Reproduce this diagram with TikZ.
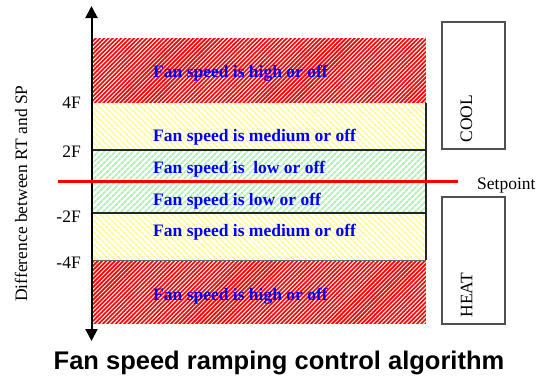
\documentclass[tikz,border=0pt]{standalone}
\usepackage{fontspec}
\setmainfont{Liberation Serif}
\newfontfamily\titlefont{Liberation Sans}
\usetikzlibrary{arrows.meta,patterns.meta}
\definecolor{bandyellow}{RGB}{255,250,140}
\definecolor{bandgreen}{RGB}{175,240,180}
\definecolor{boxgray}{RGB}{80,80,80}
\tikzset{
  hiband/.style={fill=red,postaction={pattern={Lines[angle=45,distance=3pt,line width=1pt]},pattern color=white}},
  medband/.style={pattern={Lines[angle=-45,distance=4pt,line width=1.7pt]},pattern color=bandyellow},
  lowband/.style={pattern={Lines[angle=45,distance=4pt,line width=1.8pt]},pattern color=bandgreen},
  fantext/.style={anchor=base west,inner sep=0pt,text=blue,font=\fontsize{17.5}{20}\selectfont\bfseries},
  lbl/.style={inner sep=0pt,font=\fontsize{17.5}{20}\selectfont},
  sidebox/.style={draw=boxgray,line width=1.3pt,fill=white},
}
\begin{document}
\begin{tikzpicture}[x=1pt,y=-1pt]
\useasboundingbox (0,0) rectangle (545,378);
% bands
\path[hiband] (91.5,38) rectangle (426,103);
\fill[medband] (91.5,103) rectangle (426,150);
\fill[lowband] (91.5,150) rectangle (426,213);
\fill[medband] (91.5,213) rectangle (426,260);
\path[hiband] (91.5,260) rectangle (426,324);
% outlines of middle bands
\draw[black!85,line width=1.1pt] (426,103) -- (426,260);
\draw[black!85,line width=1.1pt] (91.5,150) -- (426,150);
\draw[black!85,line width=1.1pt] (91.5,213) -- (426,213);
\draw[black!60,line width=0.7pt] (91.5,260) -- (426,260);
% band texts
\node[fantext] (t1) at (153,77) {Fan speed is high or off};
\node[fantext] (t2) at (153,141) {Fan speed is medium or off};
\node[fantext] (t3) at (153,173) {Fan speed is\ \ low or off};
\node[fantext] (t4) at (153,205) {Fan speed is low or off};
\node[fantext] (t5) at (153,236) {Fan speed is medium or off};
\node[fantext] (t6) at (153,300) {Fan speed is high or off};
% axis
\coordinate (atop) at (91.5,6);
\coordinate (abot) at (91.5,341);
\draw[line width=2pt,{Triangle[length=12pt,width=12pt]}-{Triangle[length=12pt,width=12pt]}] (atop) -- (abot);
% setpoint line
\coordinate (sl) at (58,181);
\coordinate (sr) at (458,181);
\draw[red,line width=3pt] (sl) -- (sr);
\node[lbl,anchor=base west] (sp) at (477,189) {Setpoint};
% tick labels
\node[lbl,anchor=base east] (y4) at (81,108.5) {4F};
\node[lbl,anchor=base east] (y2) at (81,157) {2F};
\node[lbl,anchor=base east] (ym2) at (81,222) {-2F};
\node[lbl,anchor=base east] (ym4) at (81,268.5) {-4F};
% axis label
\node[lbl,rotate=90] (ylab) at (21,193.5) {Difference between RT and SP};
% side boxes
\node[sidebox,minimum width=63pt,minimum height=127pt,inner sep=0pt] (cool) at (473.5,85.5) {};
\node[lbl,rotate=90] (cooltxt) at (466.5,118.5) {COOL};
\node[sidebox,minimum width=63pt,minimum height=127pt,inner sep=0pt] (heat) at (473.5,260.5) {};
\node[lbl,rotate=90] (heattxt) at (466.5,295) {HEAT};
% title
\node[anchor=base,inner sep=0pt,font=\titlefont\fontsize{25.5}{30}\selectfont\bfseries] (title) at (279,369) {Fan speed ramping control algorithm};
\end{tikzpicture}
\end{document}
